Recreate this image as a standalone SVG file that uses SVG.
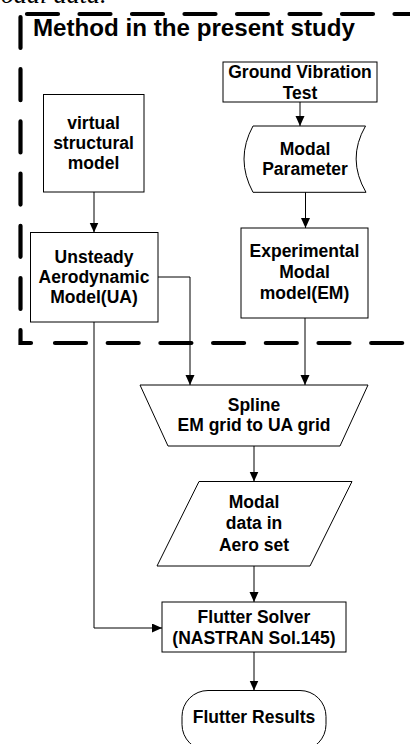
<svg xmlns="http://www.w3.org/2000/svg" width="410" height="744" viewBox="0 0 410 744">
<style>
.node{fill:#fff;stroke:#000;stroke-width:1}
.t{font-family:"Liberation Sans",Arial,sans-serif;font-weight:bold;font-size:17.5px;fill:#000;text-anchor:middle}
.conn{fill:none;stroke:#000;stroke-width:1}
.dash{fill:none;stroke:#000;stroke-width:4.2;stroke-linecap:round}
</style>
<defs>
<marker id="arr" markerUnits="userSpaceOnUse" markerWidth="10" markerHeight="10" refX="10" refY="4.5" orient="auto">
<path d="M0,0 L10,4.5 L0,9 Z" fill="#000"/>
</marker>
</defs>
<rect width="410" height="744" fill="#fff"/>
<text x="1" y="3" font-family="Liberation Serif,serif" font-style="italic" font-size="26">odal data.</text>

<g id="connectors">
<line class="conn" x1="300" y1="102" x2="300" y2="126" marker-end="url(#arr)"/>
<line class="conn" x1="94" y1="192" x2="94" y2="232.5" marker-end="url(#arr)"/>
<line class="conn" x1="305.5" y1="192" x2="305.5" y2="228" marker-end="url(#arr)"/>
<polyline class="conn" points="158,277 190,277 190,385" marker-end="url(#arr)"/>
<line class="conn" x1="305" y1="318" x2="305" y2="385" marker-end="url(#arr)"/>
<line class="conn" x1="254" y1="446" x2="254" y2="481.5" marker-end="url(#arr)"/>
<line class="conn" x1="254" y1="566" x2="254" y2="602" marker-end="url(#arr)"/>
<polyline class="conn" points="94,322 94,628 162,628" marker-end="url(#arr)"/>
<line class="conn" x1="254" y1="652" x2="254" y2="690.5" marker-end="url(#arr)"/>
</g>

<g id="boundary">
<line class="dash" x1="27" y1="14" x2="412" y2="14" stroke-dasharray="31 21.5"/>
<path class="dash" d="M20.5,17 V343 H31" stroke-dasharray="31 21.2"/>
<line class="dash" x1="55" y1="343" x2="414" y2="343" stroke-dasharray="31 21.7"/>
<text x="33" y="35.5" font-family="Liberation Sans,Arial,sans-serif" font-weight="bold" font-size="23" textLength="322" lengthAdjust="spacingAndGlyphs">Method in the present study</text>
</g>

<g id="gvt">
<rect class="node" x="223" y="62" width="154" height="40"/>
<text class="t" x="300" y="77.5">Ground Vibration</text>
<text class="t" x="300" y="98.5">Test</text>
</g>

<g id="virtual">
<rect class="node" x="43.5" y="94.5" width="100.5" height="97.5"/>
<text class="t" x="93.5" y="128.5">virtual</text>
<text class="t" x="93.5" y="148.5">structural</text>
<text class="t" x="93.5" y="168.5">model</text>
</g>

<g id="modal-parameter">
<path class="node" d="M253,126 H365.5 Q346.5,159 366,192.3 H253 Q235,159 253,126 Z"/>
<text class="t" x="305" y="155">Modal</text>
<text class="t" x="305" y="174.5">Parameter</text>
</g>

<g id="unsteady">
<rect class="node" x="30.5" y="232.5" width="127.5" height="89.5"/>
<text class="t" x="94" y="263">Unsteady</text>
<text class="t" x="94" y="283">Aerodynamic</text>
<text class="t" x="94" y="303">Model(UA)</text>
</g>

<g id="em">
<rect class="node" x="241" y="228" width="127" height="90"/>
<text class="t" x="304.5" y="257">Experimental</text>
<text class="t" x="304.5" y="278">Modal</text>
<text class="t" x="304.5" y="299">model(EM)</text>
</g>

<g id="spline">
<path class="node" d="M140,385 H368 L340,446 H168 Z"/>
<text class="t" x="254" y="411">Spline</text>
<text class="t" x="254" y="431">EM grid to UA grid</text>
</g>

<g id="modal-data">
<path class="node" d="M199,481.5 H352 L310,566 H157 Z"/>
<text class="t" x="254" y="507.5">Modal</text>
<text class="t" x="254" y="529">data in</text>
<text class="t" x="254" y="550.5">Aero set</text>
</g>

<g id="flutter-solver">
<rect class="node" x="162" y="602" width="184" height="50"/>
<text class="t" x="254" y="623">Flutter Solver</text>
<text class="t" x="254" y="644">(NASTRAN Sol.145)</text>
</g>

<g id="flutter-results">
<rect class="node" x="182" y="690.5" width="144" height="60" rx="26" ry="26"/>
<text class="t" x="254" y="723">Flutter Results</text>
</g>
</svg>
